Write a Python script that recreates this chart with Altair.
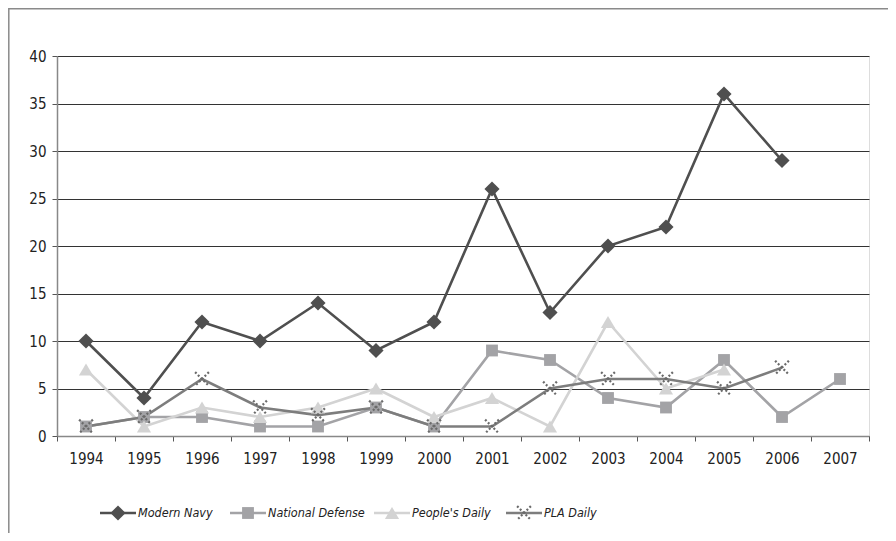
import altair as alt
import pandas as pd

years = ["1994", "1995", "1996", "1997", "1998", "1999", "2000",
         "2001", "2002", "2003", "2004", "2005", "2006", "2007"]
series_names = ["Modern Navy", "National Defense", "People's Daily", "PLA Daily"]
modern_navy = [10, 4, 12, 10, 14, 9, 12, 26, 13, 20, 22, 36, 29, None]
national_defense = [1, 2, 2, 1, 1, 3, 1, 9, 8, 4, 3, 8, 2, 6]
peoples_daily = [7, 1, 3, 2, 3, 5, 2, 4, 1, 12, 5, 7, None, None]
pla_daily = [1, 2, 6, 3, 2.2, 3, 1, 1, 5, 6, 6, 5, 7.2, None]
y_ticks = [0, 5, 10, 15, 20, 25, 30, 35, 40]

colors = ["#4f4f4f", "#a3a3a6", "#d3d3d3", "#7d7d7d"]
FONT = "DejaVu Sans Condensed, Liberation Sans Narrow, Roboto, sans-serif"

rows = []
for name, vals in zip(series_names, [modern_navy, national_defense, peoples_daily, pla_daily]):
    for y, v in zip(years, vals):
        if v is not None:
            rows.append({"Year": y, "series": name, "value": v})
df = pd.DataFrame(rows)

W, H = 812, 380
STAR = "M-1,-1L1,1M1,-1L-1,1"

x_enc = alt.X("Year:O", sort=years,
              scale=alt.Scale(type="band", domain=years, paddingInner=0, paddingOuter=0),
              axis=alt.Axis(title=None, labelAngle=0, tickBand="extent", labelFont=FONT,
                            labelFontSize=15, labelColor="#222", labelPadding=10,
                            tickSize=5, tickColor="#555", domainColor="#888",
                            domainWidth=1.5, grid=False))
y_enc = alt.Y("value:Q", scale=alt.Scale(domain=[0, 40], nice=False),
              axis=alt.Axis(title=None, values=y_ticks, grid=True, gridColor="#333",
                            gridWidth=1, labelFont=FONT, labelFontSize=15,
                            labelColor="#222", labelPadding=6, tickSize=5,
                            tickColor="#555", domainColor="#888", domainWidth=1.5))

border = alt.Chart(pd.DataFrame({"a": [0]})).mark_rect(
    fillOpacity=0, stroke="#8a8a8a", strokeWidth=1.5
).encode(x=alt.value(-48.2), x2=alt.value(2000), y=alt.value(-47.3), y2=alt.value(2000))

layers = [border]
for i, name in enumerate(series_names):
    sub = df[df["series"] == name]
    layers.append(alt.Chart(sub).mark_line(strokeWidth=2.6, color=colors[i]).encode(x=x_enc, y=y_enc))

shapes = ["diamond", "square", "triangle-up"]
sizes = [230, 140, 200]
STAR_SIZE = 190
for i in range(3):
    sub = df[df["series"] == series_names[i]]
    layers.append(alt.Chart(sub).mark_point(shape=shapes[i], filled=True, size=sizes[i],
                                            color=colors[i], opacity=1).encode(x=x_enc, y=y_enc))
sub = df[df["series"] == "PLA Daily"]
layers.append(alt.Chart(sub).mark_point(shape=STAR, filled=False, size=STAR_SIZE, color="#6a6a6a",
                                        strokeWidth=2.2, strokeDash=[2, 2], opacity=1)
              .encode(x=x_enc, y=y_enc))

# legend drawn below the plot
legend_x = [43, 173, 317, 449]
legend_y = 457
for i, name in enumerate(series_names):
    one = alt.Chart(pd.DataFrame({"series": [name]}))
    lx = legend_x[i]
    layers.append(one.mark_rule(strokeWidth=2.6, color=colors[i]).encode(
        x=alt.value(lx), x2=alt.value(lx + 36), y=alt.value(legend_y)))
    if i < 3:
        layers.append(one.mark_point(shape=shapes[i], filled=True, size=sizes[i],
                                     color=colors[i], opacity=1).encode(
            x=alt.value(lx + 18), y=alt.value(legend_y)))
    else:
        layers.append(one.mark_point(shape=STAR, filled=False, size=STAR_SIZE, color="#6a6a6a",
                                     strokeWidth=2.2, strokeDash=[2, 2], opacity=1).encode(
            x=alt.value(lx + 18), y=alt.value(legend_y)))
    layers.append(one.mark_text(text=name, align="left", baseline="middle", font=FONT,
                                fontSize=12.5, fontStyle="italic", color="#222").encode(
        x=alt.value(lx + 38), y=alt.value(legend_y)))

chart = alt.layer(*layers).properties(
    width=W, height=H,
    autosize=alt.AutoSizeParams(type="none"),
    padding={"left": 49, "top": 48, "right": 19, "bottom": 97},
).configure_view(stroke=None).configure(background="white")

chart.save("out.html", embed_options={"renderer": "svg", "actions": False})
